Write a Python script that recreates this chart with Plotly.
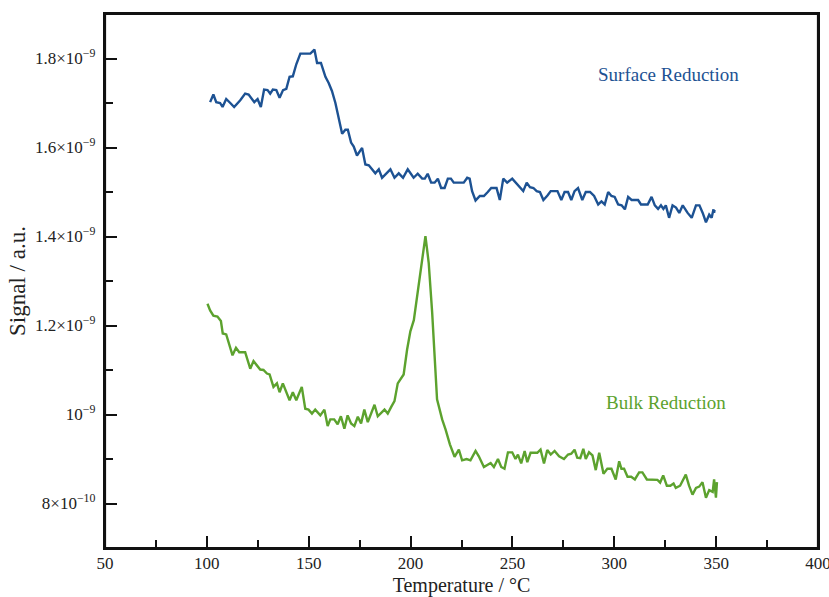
import numpy as np
import plotly.graph_objects as go

# Surface reduction (blue), temperature in °C, signal in units of 1e-9 a.u.
surf_t = [101.6,103.2,104.6,106.5,107.7,109.5,111.5,113.4,116.4,118.8,120.5,123.3,124.9,126.5,128.1,129.8,131.1,132.4,134.1,135.7,137.4,139.0,140.6,142.2,143.9,145.9,148.3,150.8,152.8,154.1,156.0,158.2,159.8,161.4,163.1,164.7,166.4,168.0,169.2,170.8,172.1,173.7,176.2,177.8,179.5,182.7,184.4,186.0,190.1,192.1,194.2,196.3,198.6,201.5,203.5,205.7,207.0,208.4,210.1,211.8,213.4,215.0,216.7,218.3,219.8,221.2,226.1,227.8,229.0,230.2,231.9,234.0,236.0,237.9,239.6,242.2,243.8,245.5,247.4,249.9,252.4,255.3,257.0,258.6,260.3,261.9,263.5,265.2,267.2,268.8,272.1,274.0,275.6,277.3,278.9,280.5,282.2,284.3,286.0,288.1,290.1,292.1,293.7,295.3,297.0,298.6,300.2,301.9,303.6,305.2,306.8,308.5,311.7,313.1,316.4,318.3,319.9,321.5,322.9,324.1,325.3,326.9,328.6,330.3,331.9,333.6,336.0,338.0,340.1,341.8,343.4,345.0,346.6,347.8,348.7,349.0,349.2]
surf_s = [1.702,1.719,1.702,1.700,1.691,1.709,1.700,1.691,1.706,1.721,1.719,1.702,1.709,1.691,1.730,1.729,1.721,1.730,1.729,1.712,1.729,1.732,1.759,1.760,1.787,1.811,1.811,1.811,1.820,1.790,1.790,1.759,1.745,1.727,1.700,1.663,1.631,1.640,1.640,1.611,1.602,1.582,1.599,1.562,1.560,1.542,1.551,1.532,1.551,1.532,1.542,1.532,1.551,1.532,1.541,1.530,1.530,1.541,1.521,1.521,1.530,1.509,1.509,1.530,1.530,1.521,1.521,1.532,1.530,1.502,1.481,1.491,1.491,1.500,1.509,1.509,1.482,1.530,1.521,1.530,1.517,1.502,1.521,1.511,1.509,1.502,1.500,1.482,1.492,1.502,1.502,1.482,1.500,1.500,1.482,1.502,1.509,1.482,1.500,1.500,1.491,1.472,1.479,1.472,1.500,1.491,1.489,1.472,1.470,1.461,1.489,1.482,1.482,1.472,1.472,1.489,1.470,1.462,1.470,1.462,1.470,1.442,1.470,1.465,1.453,1.470,1.453,1.442,1.470,1.470,1.453,1.432,1.449,1.442,1.461,1.453,1.460]

# Bulk reduction (green)
bulk_t = [100.3,101.6,103.2,105.2,106.9,107.8,109.5,111.1,112.6,114.3,115.9,118.8,121.3,122.9,124.6,126.2,127.8,129.5,130.8,132.7,134.4,135.7,137.3,140.6,142.2,143.9,146.6,148.3,149.9,151.6,153.2,155.7,157.7,159.3,160.6,162.5,164.2,165.8,167.5,169.1,170.8,172.4,174.1,175.7,177.3,179.0,182.3,183.9,187.2,188.8,190.5,192.1,193.7,196.6,198.3,199.9,201.6,204.0,207.3,208.9,210.6,213.0,215.5,217.2,219.3,221.6,223.7,225.3,227.5,229.4,231.9,233.5,236.0,239.3,240.9,242.9,244.5,246.1,247.8,249.9,251.5,252.7,254.3,256.0,257.3,258.9,262.2,263.8,265.5,267.1,268.8,270.7,272.9,275.3,277.3,278.9,280.5,281.8,283.3,284.8,286.0,287.6,289.3,290.9,292.6,294.7,296.6,298.6,300.7,302.4,303.5,304.8,306.5,308.3,310.1,312.2,313.8,316.0,318.8,321.2,322.5,324.0,325.8,327.5,329.1,330.2,332.3,335.1,336.7,338.4,340.1,341.7,343.3,345.0,346.6,348.3,349.0,349.9,350.4]
bulk_s = [1.249,1.234,1.222,1.220,1.210,1.182,1.180,1.157,1.133,1.150,1.140,1.140,1.103,1.120,1.110,1.101,1.100,1.092,1.090,1.062,1.070,1.050,1.070,1.032,1.050,1.032,1.062,1.013,1.011,1.002,1.011,0.998,1.011,0.974,0.989,0.989,0.978,0.996,0.968,0.998,0.980,0.974,0.995,0.980,1.011,0.983,1.022,0.996,1.011,1.002,1.017,1.030,1.070,1.090,1.146,1.187,1.212,1.296,1.401,1.341,1.229,1.034,0.989,0.966,0.933,0.905,0.921,0.897,0.900,0.897,0.918,0.906,0.882,0.891,0.882,0.900,0.882,0.878,0.915,0.915,0.900,0.910,0.890,0.918,0.893,0.914,0.914,0.921,0.890,0.920,0.910,0.918,0.906,0.900,0.910,0.912,0.921,0.903,0.902,0.923,0.900,0.915,0.908,0.875,0.914,0.867,0.878,0.878,0.854,0.895,0.878,0.878,0.860,0.860,0.854,0.870,0.870,0.854,0.853,0.853,0.847,0.863,0.840,0.840,0.845,0.835,0.840,0.865,0.840,0.820,0.835,0.838,0.848,0.813,0.830,0.826,0.854,0.813,0.848]

SCALE = 1e-9
y_tickvals = [0.8, 1.0, 1.2, 1.4, 1.6, 1.8]
y_ticktext = ["8×10<sup>−10</sup>", "10<sup>−9</sup>", "1.2×10<sup>−9</sup>",
              "1.4×10<sup>−9</sup>", "1.6×10<sup>−9</sup>", "1.8×10<sup>−9</sup>"]
y_minor = [0.9, 1.1, 1.3, 1.5, 1.7]

BLUE = "#1D5293"
GREEN = "#5CA22E"
FONT = "Liberation Serif"

fig = go.Figure()
fig.add_trace(go.Scatter(x=surf_t, y=np.array(surf_s) * SCALE, mode="lines",
                         line=dict(color=BLUE, width=2.4), showlegend=False))
fig.add_trace(go.Scatter(x=bulk_t, y=np.array(bulk_s) * SCALE, mode="lines",
                         line=dict(color=GREEN, width=2.4), showlegend=False))

fig.add_annotation(x=326.8, y=1.764e-9, text="Surface Reduction", showarrow=False,
                   font=dict(family=FONT, size=19, color=BLUE))
fig.add_annotation(x=325.3, y=1.027e-9, text="Bulk Reduction", showarrow=False,
                   font=dict(family=FONT, size=19, color=GREEN))

# frame around the plotting area
fig.add_shape(type="rect", xref="paper", yref="paper", x0=0, y0=0, x1=1, y1=1,
              line=dict(color="#111", width=2.2), layer="above")

fig.update_layout(
    width=829, height=597,
    margin=dict(l=105, r=11, t=14, b=49),
    paper_bgcolor="white", plot_bgcolor="white",
    font=dict(family=FONT, size=17, color="#222"),
    xaxis=dict(range=[50, 400], dtick=50, tick0=50, ticks="inside", ticklen=12,
               tickwidth=2, tickcolor="#111", showline=True, linewidth=2.2,
               linecolor="#111", mirror=True, showgrid=False, zeroline=False,
               automargin=False, ticklabelstandoff=-2, ticklabeloverflow="allow",
               minor=dict(dtick=25, tick0=50, ticks="inside", ticklen=8, tickwidth=2, tickcolor="#111"),
               title=dict(text="Temperature / °C", font=dict(size=20), standoff=14),
               tickfont=dict(size=17)),
    yaxis=dict(range=[0.7e-9, 1.9e-9], tickvals=[v * SCALE for v in y_tickvals],
               ticktext=y_ticktext, ticks="inside", ticklen=12, tickwidth=2,
               tickcolor="#111", showline=True, linewidth=2.2, linecolor="#111",
               mirror=True, showgrid=False, zeroline=False, automargin=False,
               minor=dict(tickvals=[v * SCALE for v in y_minor], ticks="inside",
                          ticklen=8, tickwidth=2, tickcolor="#111"),
               ticklabelstandoff=4,
               title=dict(text="Signal / a.u.", font=dict(size=23), standoff=3),
               tickfont=dict(size=17)),
)

# remove the default page margin so the 829x597 figure fills the window exactly
fig.write_html("out.html", config={"displayModeBar": False},
               post_script="document.body.style.margin='0';document.body.style.overflow='hidden';")
